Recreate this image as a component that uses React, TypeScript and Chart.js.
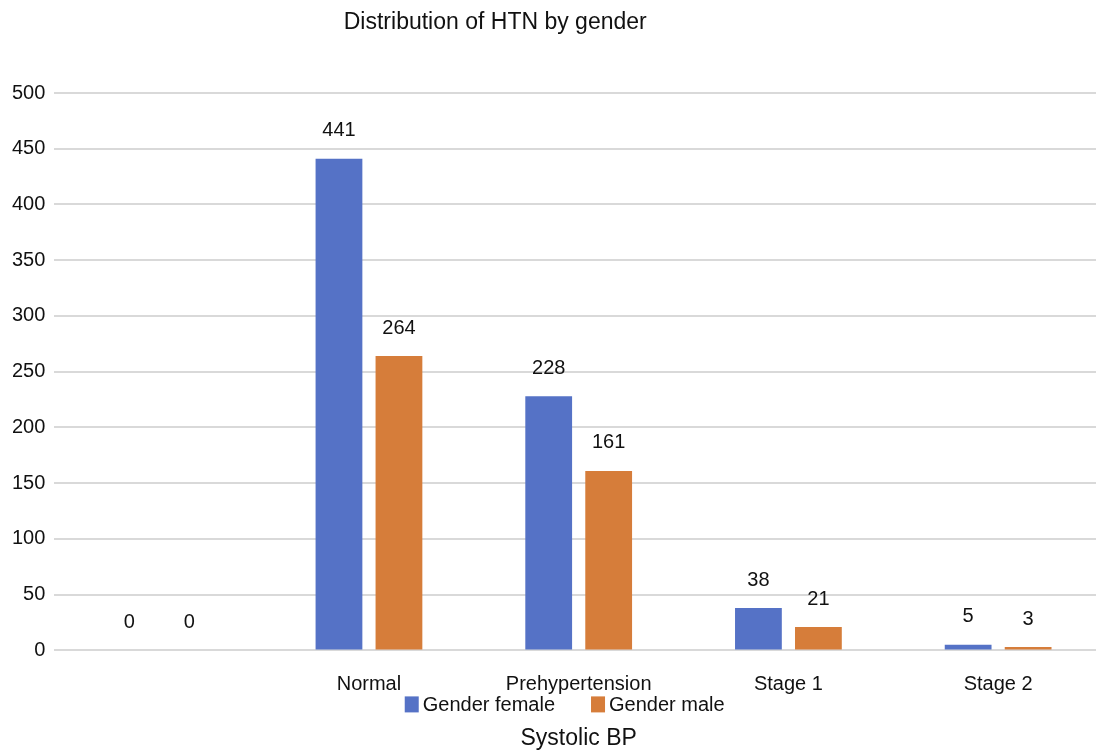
import React, { useEffect, useRef } from "react";
import { Chart, registerables } from "chart.js";

Chart.register(...registerables);

const categories = ["", "Normal", "Prehypertension", "Stage 1", "Stage 2"];
const femaleValues = [0, 441, 228, 38, 5];
const maleValues = [0, 264, 161, 21, 3];
const seriesNames = ["Gender female", "Gender male"];
const chartTitle = "Distribution of HTN by gender";
const xAxisTitle = "Systolic BP";

const FONT = "'Liberation Sans', Arial, sans-serif";
const BLUE = "#5572C6";
const ORANGE = "#D67D3A";

const titlePlugin = {
  id: "customTitle",
  afterDraw(chart: any) {
    const ctx = chart.ctx;
    ctx.save();
    ctx.font = `23px ${FONT}`;
    ctx.fillStyle = "#111";
    ctx.textAlign = "center";
    ctx.textBaseline = "middle";
    ctx.fillText(chartTitle, chart.width * 0.449, 23);
    ctx.restore();
  },
};

const valueLabelPlugin = {
  id: "valueLabels",
  afterDatasetsDraw(chart: any) {
    const ctx = chart.ctx;
    ctx.save();
    ctx.font = `20px ${FONT}`;
    ctx.fillStyle = "#111";
    ctx.textAlign = "center";
    ctx.textBaseline = "middle";
    chart.data.datasets.forEach((ds: any, i: number) => {
      const meta = chart.getDatasetMeta(i);
      meta.data.forEach((el: any, j: number) => {
        ctx.fillText(String(ds.data[j]), el.x, el.y - 28);
      });
    });
    ctx.restore();
  },
};

const legendPlugin = {
  id: "customLegend",
  afterDraw(chart: any) {
    const ctx = chart.ctx;
    const area = chart.chartArea;
    ctx.save();
    ctx.font = `20px ${FONT}`;
    ctx.textBaseline = "middle";
    ctx.textAlign = "left";
    const boxW = 14;
    const boxH = 16;
    const gapBoxText = 4;
    const gapItems = 36;
    const items = chart.data.datasets.map((ds: any) => ({
      text: ds.label,
      color: ds.backgroundColor,
      w: boxW + gapBoxText + ctx.measureText(ds.label).width,
    }));
    const total = items.reduce((s: number, it: any) => s + it.w, 0) + gapItems * (items.length - 1);
    let x = (area.left + area.right) / 2 - total / 2 - 14;
    const y = area.bottom + 54;
    items.forEach((it: any) => {
      ctx.fillStyle = it.color;
      ctx.fillRect(x, y - boxH / 2, boxW, boxH);
      ctx.fillStyle = "#111";
      ctx.fillText(it.text, x + boxW + gapBoxText, y + 1);
      x += it.w + gapItems;
    });
    ctx.restore();
  },
};

export default function App() {
  const canvasRef = useRef<HTMLCanvasElement | null>(null);

  useEffect(() => {
    document.body.style.margin = "0";
    const canvas = canvasRef.current;
    if (!canvas) return;
    const chart = new Chart(canvas, {
      type: "bar",
      data: {
        labels: categories,
        datasets: [
          {
            label: seriesNames[0],
            data: femaleValues,
            backgroundColor: BLUE,
            categoryPercentage: 0.572,
            barPercentage: 0.78,
          },
          {
            label: seriesNames[1],
            data: maleValues,
            backgroundColor: ORANGE,
            categoryPercentage: 0.572,
            barPercentage: 0.78,
          },
        ],
      },
      options: {
        animation: false,
        responsive: true,
        maintainAspectRatio: false,
        layout: { padding: { top: 93, left: 3, right: 0, bottom: 0 } },
        plugins: {
          legend: { display: false },
          title: { display: false },
          tooltip: { enabled: false },
        },
        scales: {
          x: {
            grid: { display: false, drawTicks: false },
            border: { display: false },
            ticks: {
              color: "#111",
              font: { family: FONT, size: 20 },
              padding: 22,
              maxRotation: 0,
              autoSkip: false,
            },
            title: {
              display: true,
              text: xAxisTitle,
              color: "#111",
              font: { family: FONT, size: 23 },
              padding: { top: 6, bottom: 0 },
            },
          },
          y: {
            min: 0,
            max: 500,
            grid: { color: "#D9D9D9", lineWidth: 2, drawTicks: false },
            border: { display: false },
            ticks: {
              stepSize: 50,
              color: "#111",
              font: { family: FONT, size: 20 },
              padding: 9,
            },
          },
        },
      },
      plugins: [titlePlugin, valueLabelPlugin, legendPlugin],
    });
    return () => chart.destroy();
  }, []);

  return (
    <div style={{ width: 1096, height: 752, overflow: "hidden" }}>
      <div style={{ width: 1103, height: 752, position: "relative" }}>
        <canvas ref={canvasRef} />
      </div>
    </div>
  );
}
